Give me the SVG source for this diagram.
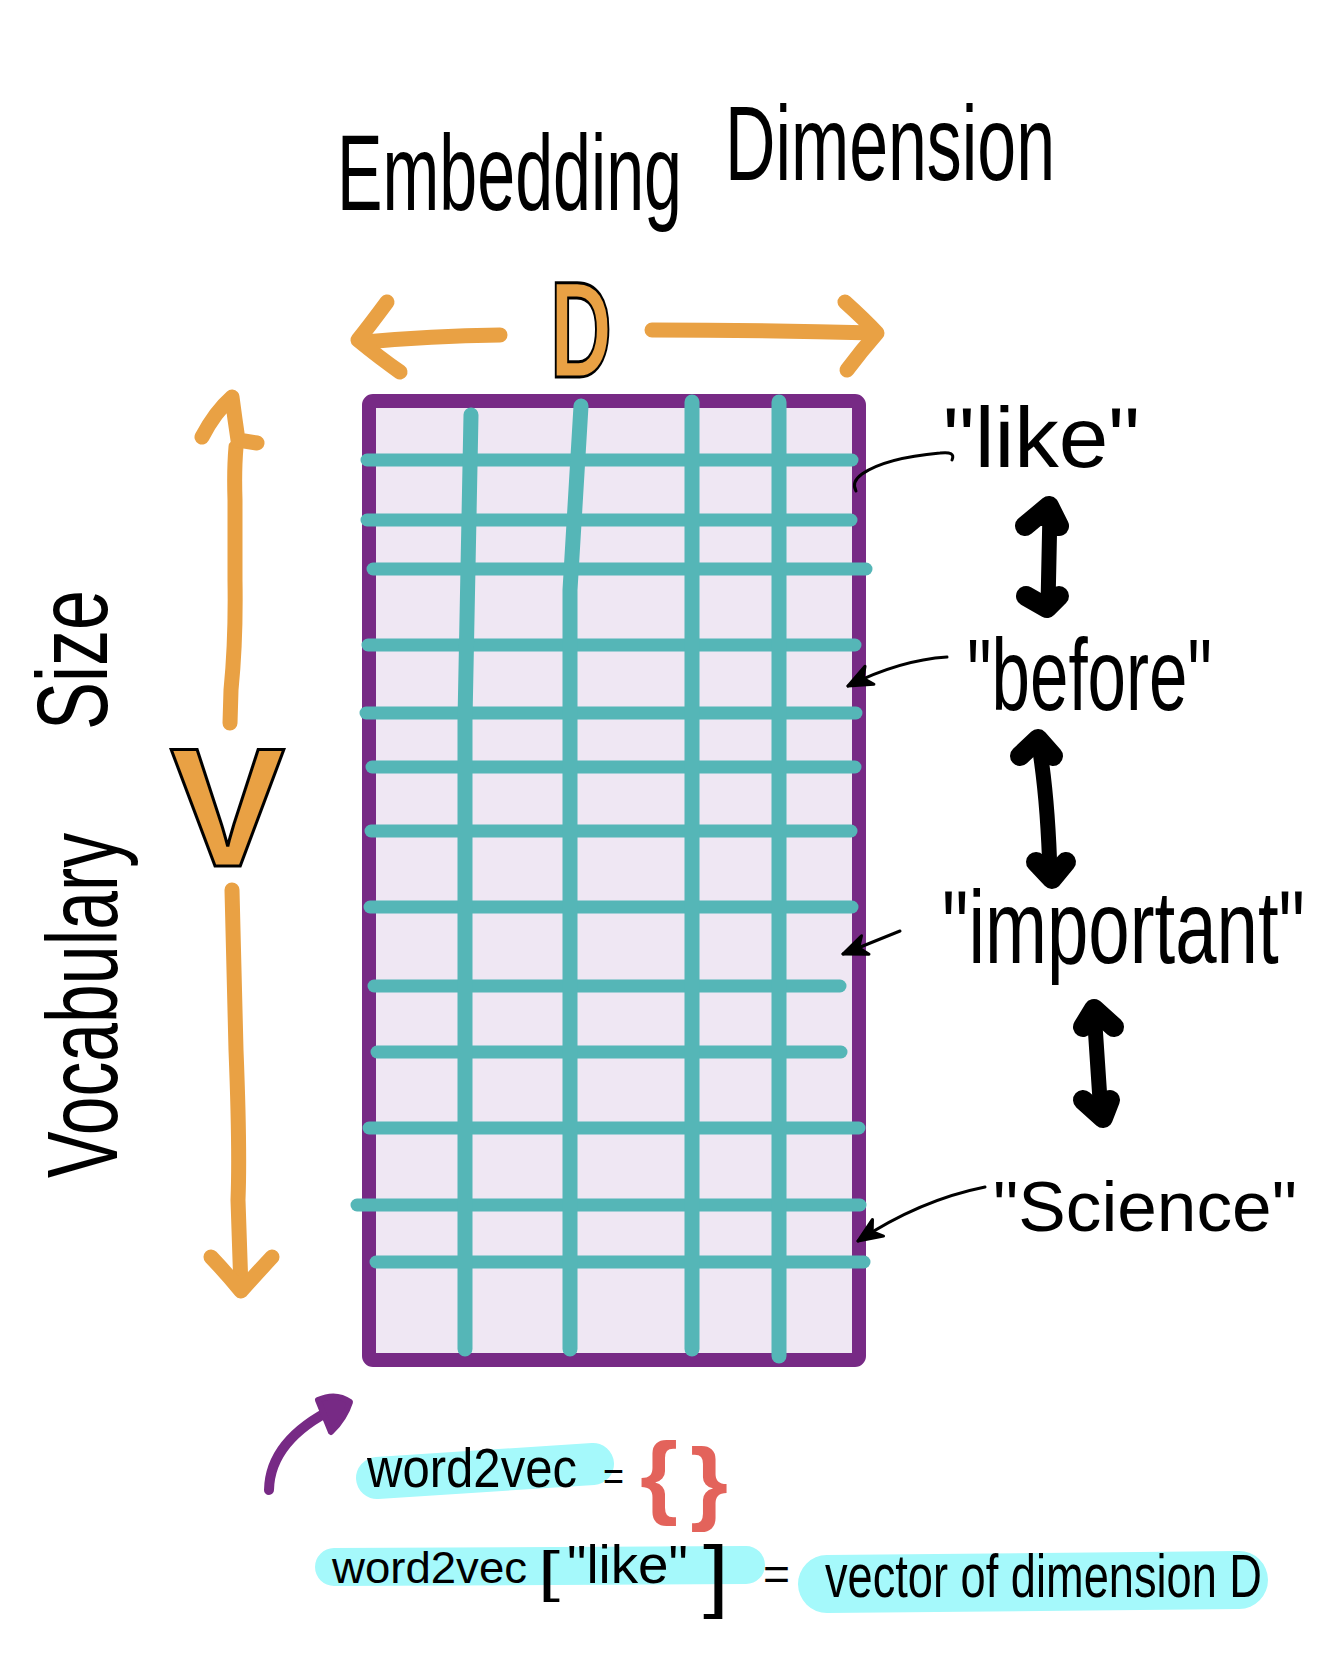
<svg xmlns="http://www.w3.org/2000/svg" width="1327" height="1656" viewBox="0 0 1327 1656">
<style>
.hw{font-family:"Liberation Sans",Arial,sans-serif;font-weight:normal;fill:#000}
.or{fill:none;stroke:#E9A144;stroke-width:15;stroke-linecap:round;stroke-linejoin:round}
.teal{fill:none;stroke:#55B6B7;stroke-linecap:round}
.blk{fill:none;stroke:#000;stroke-width:15;stroke-linecap:round;stroke-linejoin:round}
.bh{fill:#000;stroke:#000;stroke-width:20;stroke-linecap:round;stroke-linejoin:round}
.thin{fill:none;stroke:#000;stroke-width:3;stroke-linecap:round}
.hl{fill:none;stroke:#A5F9FB;stroke-linecap:round}
.big{font-family:"Liberation Sans",Arial,sans-serif;font-weight:bold;fill:#E9A144;stroke:#000;stroke-width:3}
.red{font-family:"Liberation Sans",Arial,sans-serif;font-weight:bold;fill:#E3635B}
</style>
<defs>
<marker id="ah" markerUnits="userSpaceOnUse" markerWidth="40" markerHeight="40" refX="0" refY="0" viewBox="-30 -15 40 30" orient="auto">
<path d="M0,0 L-24,-10 L-17,0 L-24,10 Z" fill="#000" stroke="#000" stroke-width="3" stroke-linejoin="round"/>
</marker>
</defs>
<rect width="1327" height="1656" fill="#fff"/>

<g id="title">
<text class="hw" x="337" y="210" font-size="68" textLength="345" lengthAdjust="spacingAndGlyphs" transform="matrix(1 0 0 1.57 0 -119.7)">Embedding</text>
<text class="hw" x="725" y="180" font-size="70" textLength="330" lengthAdjust="spacingAndGlyphs" transform="matrix(1 0 0 1.5 0 -90)">Dimension</text>
</g>

<g id="d-label">
<path class="or" d="M500 335 Q430 336 365 342"/>
<path class="or" d="M387 302 Q370 325 358 340 Q380 358 400 372"/>
<path class="or" d="M652 330 Q760 330 875 333"/>
<path class="or" d="M845 302 Q865 320 877 333 Q862 350 847 370"/>
<text class="big" x="550" y="377" font-size="137" textLength="62" lengthAdjust="spacingAndGlyphs">D</text>
</g>

<g id="v-label">
<path class="or" d="M230 723 L231 690 Q236 640 235 580 L235 500 Q234 470 236 447"/>
<path class="or" d="M202 437 Q215 412 232 397 Q235 420 238 440 L257 443"/>
<path class="or" d="M232 890 L236 1050 Q240 1150 238 1200 L241 1289"/>
<path class="or" d="M211 1257 Q228 1275 241 1291 Q258 1272 272 1257"/>
<text class="big" x="170" y="866" font-size="168" textLength="115" lengthAdjust="spacingAndGlyphs">V</text>
</g>

<g id="vocab-label" transform="translate(117,1178) rotate(-90)">
<text class="hw" x="0" y="0" font-size="69" textLength="345" lengthAdjust="spacingAndGlyphs" transform="matrix(1 0 0 1.45 0 0)">Vocabulary</text>
<text class="hw" x="448" y="-10" font-size="72" textLength="140" lengthAdjust="spacingAndGlyphs" transform="matrix(1 0 0 1.39 0 3.9)">Size</text>
</g>

<g id="matrix">
<rect x="369" y="401" width="490" height="959" rx="4" fill="#EFE7F3" stroke="#772A85" stroke-width="14"/>
<g class="teal" stroke-width="13">
<line x1="367" y1="460" x2="852" y2="460"/>
<line x1="367" y1="520" x2="851" y2="520"/>
<line x1="373" y1="569" x2="866" y2="569"/>
<line x1="368" y1="645" x2="855" y2="645"/>
<line x1="366" y1="713" x2="856" y2="713"/>
<line x1="372" y1="767" x2="855" y2="767"/>
<line x1="371" y1="831" x2="851" y2="831"/>
<line x1="370" y1="907" x2="852" y2="907"/>
<line x1="374" y1="986" x2="840" y2="986"/>
<line x1="377" y1="1052" x2="841" y2="1052"/>
<line x1="369" y1="1128" x2="859" y2="1128"/>
<line x1="357" y1="1205" x2="860" y2="1205"/>
<line x1="376" y1="1262" x2="864" y2="1262"/>
</g>
<g class="teal" stroke-width="15">
<path d="M471 415 L465 720 L465 1349"/>
<path d="M581 406 L570 590 L570 1349"/>
<path d="M692 402 L692 1349"/>
<path d="M779 402 L779 1356"/>
</g>
</g>

<g id="connectors">
<path class="thin" d="M952 460 Q956 451 940 453 Q885 458 862 474 Q851 482 856 491"/>
<path class="thin" d="M947 657 Q900 660 848 686" marker-end="url(#ah)"/>
<path class="thin" d="M900 931 L843 954" marker-end="url(#ah)"/>
<path class="thin" d="M985 1187 Q920 1200 858 1241" marker-end="url(#ah)"/>
<path class="blk" d="M1050 510 L1048 605"/>
<path class="bh" d="M1025 526 L1049 506 L1059 526"/>
<path class="bh" d="M1026 596 L1047 608 L1059 596"/>
<path class="blk" d="M1039 745 Q1048 800 1050 875"/>
<path class="bh" d="M1020 756 L1038 739 L1053 756"/>
<path class="bh" d="M1036 862 L1052 879 L1066 862"/>
<path class="blk" d="M1094 1010 L1101 1115"/>
<path class="bh" d="M1083 1027 L1094 1009 L1114 1027"/>
<path class="bh" d="M1083 1100 L1103 1118 L1110 1100"/>
</g>

<g id="like">
<text class="hw" x="943" y="467" font-size="85" textLength="197" lengthAdjust="spacingAndGlyphs">"like"</text>
</g>
<g id="before">
<text class="hw" x="967" y="710" font-size="69" textLength="245" lengthAdjust="spacingAndGlyphs" transform="matrix(1 0 0 1.48 0 -340.8)">"before"</text>
</g>
<g id="important">
<text class="hw" x="942" y="963" font-size="74" textLength="363" lengthAdjust="spacingAndGlyphs" transform="matrix(1 0 0 1.41 0 -394.83)">"important"</text>
</g>
<g id="science">
<text class="hw" x="993" y="1231" font-size="71" textLength="304" lengthAdjust="spacingAndGlyphs">"Science"</text>
</g>

<g id="pointer">
<path d="M269 1490 Q270 1440 335 1408" fill="none" stroke="#772A85" stroke-width="10" stroke-linecap="round"/>
<path d="M318 1400 Q336 1392 350 1402 Q345 1418 331 1432 Z" fill="#772A85" stroke="#772A85" stroke-width="6" stroke-linejoin="round"/>
</g>

<g id="code1">
<line class="hl" x1="377" y1="1478" x2="593" y2="1464" stroke-width="42"/>
<text class="hw" x="367" y="1487" font-size="49" textLength="210" lengthAdjust="spacingAndGlyphs" transform="matrix(1 0 0 1.14 0 -208.18)">word2vec</text>
<text class="hw" x="603" y="1490" font-size="40" textLength="21" lengthAdjust="spacingAndGlyphs">=</text>
<text class="red" x="640" y="1507" font-size="92" textLength="38" lengthAdjust="spacingAndGlyphs">{</text>
<text class="red" x="690" y="1513" font-size="92" textLength="38" lengthAdjust="spacingAndGlyphs">}</text>
</g>

<g id="code2">
<line class="hl" x1="334" y1="1567" x2="746" y2="1565" stroke-width="38"/>
<line class="hl" x1="827" y1="1584" x2="1239" y2="1580" stroke-width="58"/>
<text class="hw" x="332" y="1583" font-size="45" textLength="195" lengthAdjust="spacingAndGlyphs">word2vec</text>
<text class="hw" x="538" y="1590" font-size="55" textLength="22" lengthAdjust="spacingAndGlyphs">[</text>
<text class="hw" x="567" y="1583" font-size="54" textLength="121" lengthAdjust="spacingAndGlyphs">"like"</text>
<text class="hw" x="703" y="1602" font-size="80" textLength="26" lengthAdjust="spacingAndGlyphs">]</text>
<text class="hw" x="763" y="1590" font-size="46" textLength="27" lengthAdjust="spacingAndGlyphs">=</text>
<text class="hw" x="825" y="1597" font-size="45" textLength="437" lengthAdjust="spacingAndGlyphs" transform="matrix(1 0 0 1.35 0 -558.95)">vector of dimension D</text>
</g>
</svg>
